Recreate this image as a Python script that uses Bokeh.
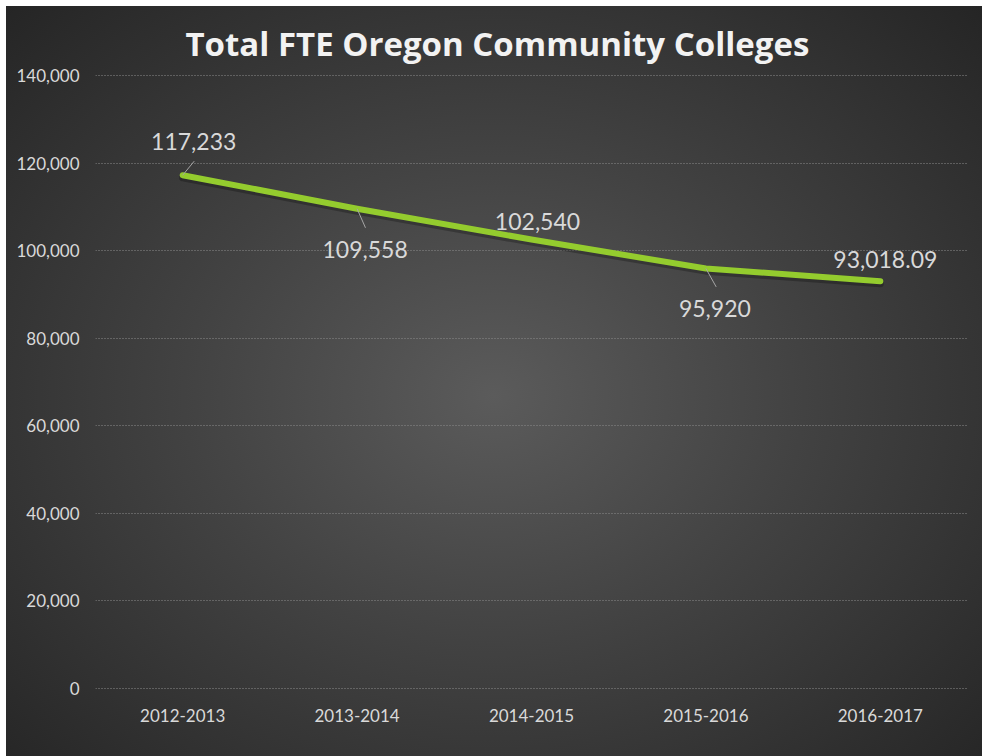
from bokeh.plotting import figure
from bokeh.models import Range1d, FixedTicker, NumeralTickFormatter, ColumnDataSource
from bokeh.core.properties import value
from bokeh.embed import file_html
from bokeh.resources import INLINE

# ---- data ----
years = ["2012-2013", "2013-2014", "2014-2015", "2015-2016", "2016-2017"]
fte = [117233, 109558, 102540, 95920, 93018.09]
fte_labels = ["117,233", "109,558", "102,540", "95,920", "93,018.09"]
y_ticks = [0, 20000, 40000, 60000, 80000, 100000, 120000, 140000]

# label placement (screen px) and leader lines (data units) -- styling only
label_dx = [11, 8, 6, 9, 5]
label_dy = [-34, 41, -18, 40, -22]
lead_dx = [0.066, 0.048, 0.0, 0.059, 0.0]
lead_dy = [3200, -4340, 0, -4200, 0]

xs = list(range(len(years)))
pad = 457  # tiny padding so the end gridlines stay visible

p = figure(width=976, height=750, output_backend="svg", toolbar_location=None,
           x_range=Range1d(-0.5, len(years) - 0.5), y_range=Range1d(-pad, 140000 + pad),
           min_border_left=89, min_border_right=15, min_border_top=67, min_border_bottom=66,
           title="Total FTE Oregon Community Colleges")
p.margin = (6, 0, 0, 6)

p.styles = {"background": "radial-gradient(ellipse farthest-corner at 50% 52%, #5b5b5b 0%, #424242 45%, #252525 100%)"}
p.background_fill_alpha = 0
p.border_fill_alpha = 0
p.outline_line_color = None

p.title.align = "left"
p.title.offset = 90
p.title.text_font = "Open Sans"
p.title.text_font_style = "bold"
p.title.text_font_size = "33px"
p.title.text_color = "#f2f2f2"
p.title.standoff = 15

# axes
p.yaxis.ticker = FixedTicker(ticks=y_ticks)
p.yaxis.formatter = NumeralTickFormatter(format="0,0")
p.xaxis.ticker = FixedTicker(ticks=xs)
p.xaxis.major_label_overrides = {i: y for i, y in enumerate(years)}
for ax in (p.xaxis, p.yaxis):
    ax.axis_line_color = None
    ax.major_tick_line_color = None
    ax.minor_tick_line_color = None
    ax.major_label_text_font = "Lato"
    ax.major_label_text_font_size = "17px"
    ax.major_label_text_color = "#d9d9d9"
p.yaxis.major_label_standoff = 10
p.xaxis.major_label_standoff = 12

p.xgrid.grid_line_color = None
p.ygrid.grid_line_color = "#8c8c8c"
p.ygrid.grid_line_dash = "1 2"
p.ygrid.grid_line_width = 1

src = ColumnDataSource(dict(x=xs, y=fte, lab=fte_labels, dx=label_dx, dy=label_dy,
                            x1=[a + b for a, b in zip(xs, lead_dx)],
                            y1=[a + b for a, b in zip(fte, lead_dy)]))

# shadow and line
p.line(x=xs, y=[v - 600 for v in fte], line_color="black", line_alpha=0.25, line_width=7,
       line_join="round", line_cap="round")
p.line(x="x", y="y", source=src, line_color="#94cc2e", line_width=6,
       line_join="round", line_cap="round")

# leader lines
p.segment(x0="x", y0="y", x1="x1", y1="y1", source=src, line_color="#a6a6a6", line_width=1)

# data labels
p.text(x="x", y="y", text="lab", x_offset="dx", y_offset="dy", source=src,
       text_align="center", text_baseline="middle", text_font=value("Lato"),
       text_font_size="23px", text_color="#d9d9d9")

open("out.html", "w").write(file_html(p, INLINE))
